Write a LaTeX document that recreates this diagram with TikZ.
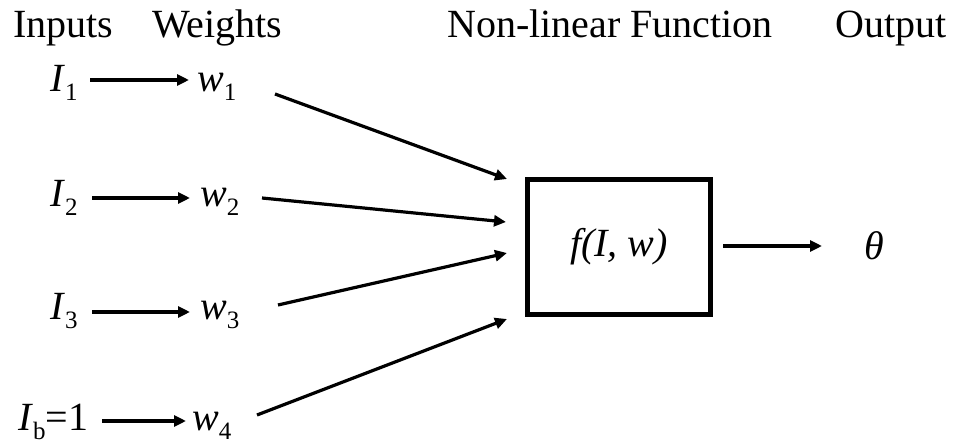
\documentclass[tikz,border=0pt]{standalone}
\usepackage{fontspec}
\setmainfont{Liberation Serif}
\usetikzlibrary{arrows.meta}
\newcommand{\mysub}[1]{\raisebox{-9pt}{\fontsize{25}{25}\selectfont #1}}
\begin{document}
\begin{tikzpicture}[x=1pt,y=-1pt,
  lbl/.style={inner sep=0pt,anchor=base west,font=\fontsize{40}{48}\selectfont},
  arr/.style={line width=3.2pt,-{Triangle[length=12pt,width=11pt]}},
  fbox/.style={draw,line width=5pt,minimum width=183pt,minimum height=135pt,inner sep=0pt,font=\fontsize{40}{48}\selectfont\itshape}]
\useasboundingbox (0,0) rectangle (954,446);
% headers
\node[lbl] (hin) at (13,38) {Inputs};
\node[lbl] (hw) at (152,38) {Weights};
\node[lbl] (hf) at (447,38) {Non-linear Function};
\node[lbl] (ho) at (835,38) {Output};
% inputs
\node[lbl] (i1) at (50,92) {\textit{I}\mysub{1}};
\node[lbl] (i2) at (50,207) {\textit{I}\mysub{2}};
\node[lbl] (i3) at (50,320) {\textit{I}\mysub{3}};
\node[lbl] (ib) at (18,431) {\textit{I}\mysub{b}=1};
% weights
\node[lbl] (w1) at (197,92) {\textit{w}\mysub{1}};
\node[lbl] (w2) at (200,207) {\textit{w}\mysub{2}};
\node[lbl] (w3) at (200,320) {\textit{w}\mysub{3}};
\node[lbl] (w4) at (192,431) {\textit{w}\mysub{4}};
% function box
\node[fbox] (f) at (619,247) {f(I, w)};
% output
\node[inner sep=0pt,font=\fontsize{40}{48}\selectfont\itshape] (th) at (874,246) {θ};
% arrow endpoints
\coordinate (a1s) at (90,80);  \coordinate (a1e) at (189,80);
\coordinate (a2s) at (92,198); \coordinate (a2e) at (190,198);
\coordinate (a3s) at (92,312); \coordinate (a3e) at (190,312);
\coordinate (a4s) at (102,421); \coordinate (a4e) at (186,421);
\coordinate (d1s) at (275,94);  \coordinate (d1e) at (507,179);
\coordinate (d2s) at (262,198); \coordinate (d2e) at (506,222);
\coordinate (d3s) at (278,305); \coordinate (d3e) at (507,253);
\coordinate (d4s) at (257,415); \coordinate (d4e) at (507,319);
\coordinate (os) at (723,246);  \coordinate (oe) at (822,246);
\draw[arr] (a1s) -- (a1e);
\draw[arr] (a2s) -- (a2e);
\draw[arr] (a3s) -- (a3e);
\draw[arr] (a4s) -- (a4e);
\draw[arr] (d1s) -- (d1e);
\draw[arr] (d2s) -- (d2e);
\draw[arr] (d3s) -- (d3e);
\draw[arr] (d4s) -- (d4e);
\draw[arr] (os) -- (oe);
\end{tikzpicture}
\end{document}
